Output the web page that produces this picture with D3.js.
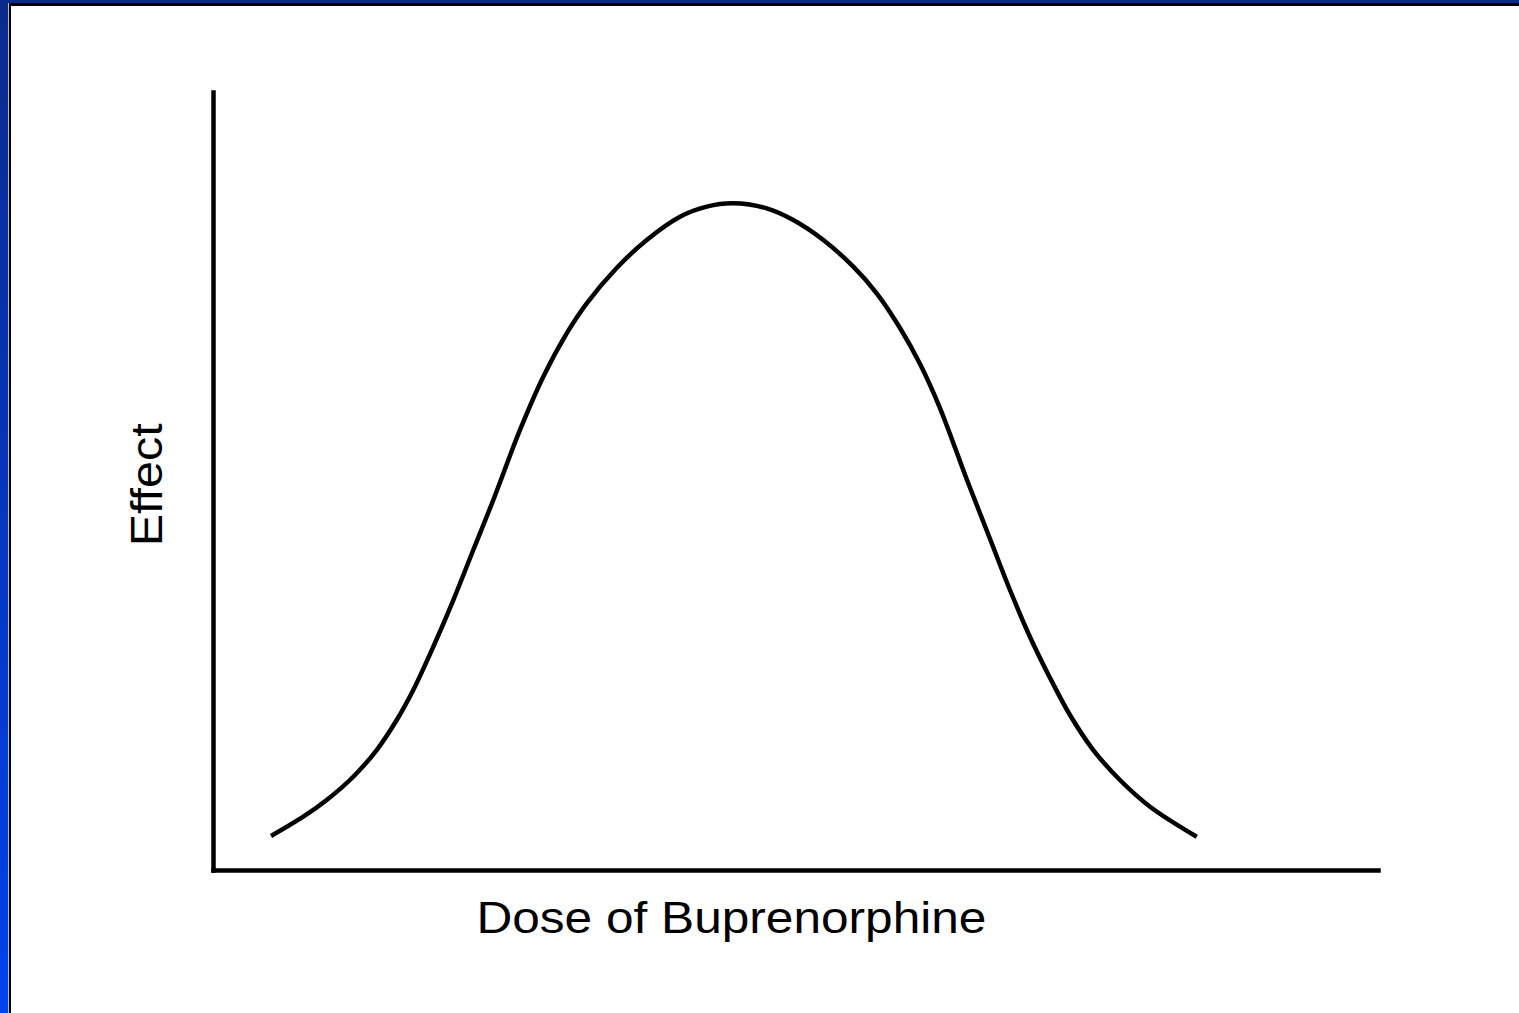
<!DOCTYPE html>
<html>
<head>
<meta charset="utf-8">
<script src="https://cdn.jsdelivr.net/npm/d3@7"></script>
<style>
    body { margin: 0; overflow: hidden; }
    .axis-label { font-family: "Liberation Sans", Arial, Helvetica, sans-serif; fill: #000; }
</style>
</head>
<body>
<div id="chart-container"></div>
<script>
// dose-response curve (bell shape)
// dose is 0-100 along the x axis, effect is 0-100 up the y axis
const dose = [4.98, 7.75, 9.76, 12.04, 14.05, 15.77, 17.19, 18.91, 20.63, 22.34, 24.06,
    26.35, 28.35, 30.36, 32.08, 34.65, 37.23, 40.09, 42.38, 44.66, 47.53, 49.81, 52.39,
    54.96, 56.97, 58.97, 60.69, 62.40, 64.72, 66.70, 68.41, 70.13, 71.85, 73.56, 75.56,
    77.85, 80.43, 84.44];
const effect = [4.37, 6.85, 9.0, 11.99, 15.42, 19.28, 23.14, 28.70, 34.70, 41.13, 47.56,
    56.56, 63.41, 68.98, 72.84, 77.38, 80.98, 83.97, 85.26, 85.69, 85.05, 83.55, 80.98,
    77.55, 74.13, 69.67, 65.04, 59.38, 50.13, 42.54, 35.99, 29.95, 24.68, 19.92, 15.42,
    11.57, 8.14, 4.28];

const xLabel = "Dose of Buprenorphine";
const yLabel = "Effect";

const svgWidth = 1519;
const svgHeight = 1013;
// plot area corners, taken from where the axes sit on the slide
const margin = { top: 92, right: 141, bottom: 143, left: 213 };
const width = svgWidth - margin.left - margin.right;
const height = svgHeight - margin.top - margin.bottom;

const svg = d3.select("#chart-container")
    .append("svg")
    .attr("width", svgWidth)
    .attr("height", svgHeight);

// slide frame: blue strip on top and left, thin black border, white page
const grad = svg.append("defs").append("linearGradient")
    .attr("id", "blueGrad")
    .attr("x1", 0).attr("y1", 0).attr("x2", 0).attr("y2", 1);
grad.append("stop").attr("offset", "0%").attr("stop-color", "#0b2a8c");
grad.append("stop").attr("offset", "100%").attr("stop-color", "#0042ee");

svg.append("rect")
    .attr("width", svgWidth).attr("height", svgHeight)
    .attr("fill", "url(#blueGrad)");
svg.append("rect")
    .attr("x", 8).attr("y", 3)
    .attr("width", svgWidth - 8).attr("height", svgHeight - 3)
    .attr("fill", "#b8b8b8");
svg.append("rect")
    .attr("x", 9).attr("y", 3)
    .attr("width", svgWidth - 9).attr("height", svgHeight - 3)
    .attr("fill", "#000");
svg.append("rect")
    .attr("x", 11).attr("y", 6)
    .attr("width", svgWidth - 11).attr("height", svgHeight - 6)
    .attr("fill", "#fff");

const g = svg.append("g")
    .attr("transform", `translate(${margin.left},${margin.top})`);

// scales
const x = d3.scaleLinear()
    .domain([0, 100])
    .range([0, width]);

const y = d3.scaleLinear()
    .domain([0, 100])
    .range([height, 0]);

// axes with no ticks, just the thick lines
g.append("g")
    .attr("class", "axis axis-x")
    .attr("transform", `translate(0, ${height})`)
    .call(d3.axisBottom(x).tickValues([]).tickSizeOuter(0));

g.append("g")
    .attr("class", "axis axis-y")
    .call(d3.axisLeft(y).tickValues([]).tickSizeOuter(0));

g.selectAll(".axis .domain")
    .attr("stroke", "#000")
    .attr("stroke-width", 4.5)
    .attr("stroke-linecap", "square");

// the curve itself
const pts = d3.zip(dose, effect);
const line = d3.line()
    .x(d => x(d[0]))
    .y(d => y(d[1]))
    .curve(d3.curveCatmullRom.alpha(0.5));

g.append("path")
    .datum(pts)
    .attr("d", line)
    .attr("fill", "none")
    .attr("stroke", "#000")
    .attr("stroke-width", 4.5)
    .attr("stroke-linecap", "butt");

// axis titles
g.append("text")
    .attr("class", "axis-label")
    .attr("x", x(44.5))
    .attr("y", height + 63)
    .attr("text-anchor", "middle")
    .attr("font-size", 44)
    .attr("textLength", 510)
    .attr("lengthAdjust", "spacingAndGlyphs")
    .text(xLabel);

g.append("text")
    .attr("class", "axis-label")
    .attr("transform", `translate(-51, ${y(49.5)}) rotate(-90)`)
    .attr("text-anchor", "middle")
    .attr("font-size", 44)
    .attr("textLength", 123)
    .attr("lengthAdjust", "spacingAndGlyphs")
    .text(yLabel);
</script>
</body>
</html>
